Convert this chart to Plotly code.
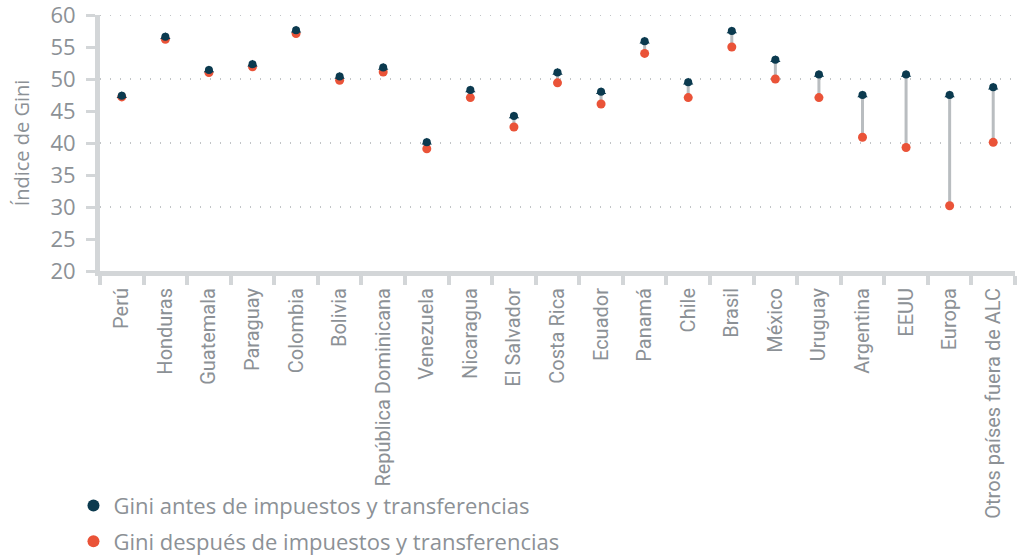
import plotly.graph_objects as go

countries = ["Perú", "Honduras", "Guatemala", "Paraguay", "Colombia", "Bolivia",
             "República Dominicana", "Venezuela", "Nicaragua", "El Salvador",
             "Costa Rica", "Ecuador", "Panamá", "Chile", "Brasil", "México",
             "Uruguay", "Argentina", "EEUU", "Europa", "Otros países fuera de ALC"]
gini_before = [47.4, 56.6, 51.4, 52.3, 57.6, 50.4, 51.8, 40.1, 48.3, 44.2,
               51.0, 48.0, 55.9, 49.5, 57.5, 53.0, 50.7, 47.5, 50.7, 47.5, 48.7]
gini_after = [47.2, 56.2, 51.0, 51.9, 57.1, 49.8, 51.1, 39.1, 47.1, 42.5,
              49.4, 46.1, 54.0, 47.1, 55.0, 50.0, 47.1, 40.9, 39.3, 30.2, 40.1]
y_ticks = [20, 25, 30, 35, 40, 45, 50, 55, 60]
grid_levels = [30, 40, 50, 60]

DARK = "#0b3a4f"
RED = "#ea5338"
AXIS_GRAY = "#d3d6d8"
TEXT_GRAY = "#8c9196"

fig = go.Figure()

# stems from after -> before
stem_x, stem_y = [], []
for c, b, a in zip(countries, gini_before, gini_after):
    stem_x += [c, c, None]
    stem_y += [a, b, None]
fig.add_trace(go.Scatter(
    x=stem_x, y=stem_y, mode="lines",
    line={"color": "#b9bdc0", "width": 3},
    showlegend=False, hoverinfo="skip",
))

fig.add_trace(go.Scatter(
    x=countries, y=gini_after, mode="markers",
    marker={"color": RED, "size": 9, "symbol": "circle"},
    name="Gini después de impuestos y transferencias",
    legendgroup="after", legendrank=2,
))
# little arrow tip on the "before" marker
fig.add_trace(go.Scatter(
    x=countries, y=gini_before, mode="markers",
    marker={"color": DARK, "size": 9, "symbol": "triangle-up"},
    showlegend=False, hoverinfo="skip",
))
fig.add_trace(go.Scatter(
    x=countries, y=gini_before, mode="markers",
    marker={"color": DARK, "size": 8, "symbol": "circle"},
    name="Gini antes de impuestos y transferencias",
    legendgroup="before", legendrank=1,
))

for lvl in grid_levels:
    fig.add_hline(y=lvl, line={"color": "#aeb2b5", "width": 1.6, "dash": "1px,9px"}, layer="below")

fig.update_layout(
    width=1021, height=560,
    margin={"l": 100, "r": 6, "t": 15, "b": 289, "autoexpand": False},
    plot_bgcolor="white", paper_bgcolor="white",
    font={"family": "Open Sans", "color": TEXT_GRAY},
    xaxis={
        "type": "category", "tickangle": -90, "automargin": False,
        "tickfont": {"family": "Roboto", "size": 20, "color": TEXT_GRAY},
        "ticklabelstandoff": 4,
        "showline": True, "linecolor": AXIS_GRAY, "linewidth": 5,
        "ticks": "outside", "tickson": "boundaries", "ticklen": 9,
        "tickwidth": 4, "tickcolor": AXIS_GRAY, "showgrid": False,
        "range": [-0.5, len(countries) - 0.5],
    },
    yaxis={
        "range": [20, 60], "tickvals": y_ticks, "automargin": False,
        "tickfont": {"size": 22, "color": TEXT_GRAY},
        "ticklabeloverflow": "allow", "ticklabelstandoff": 6,
        "showline": True, "linecolor": AXIS_GRAY, "linewidth": 5,
        "ticks": "outside", "ticklen": 9, "tickwidth": 3, "tickcolor": AXIS_GRAY,
        "showgrid": False, "zeroline": False,
        "title": {"text": "Índice de Gini", "font": {"size": 20, "color": TEXT_GRAY}, "standoff": 17},
    },
    legend={
        "x": -0.029, "y": -0.835, "xanchor": "left", "yanchor": "top",
        "orientation": "v",
        "font": {"size": 22, "color": TEXT_GRAY},
        "itemsizing": "constant", "tracegroupgap": 4,
    },
)

# drop the default 8px body margin so the figure fills the window exactly
fig.write_html("out.html", config={"displayModeBar": False},
               post_script="document.body.style.margin='0';")
